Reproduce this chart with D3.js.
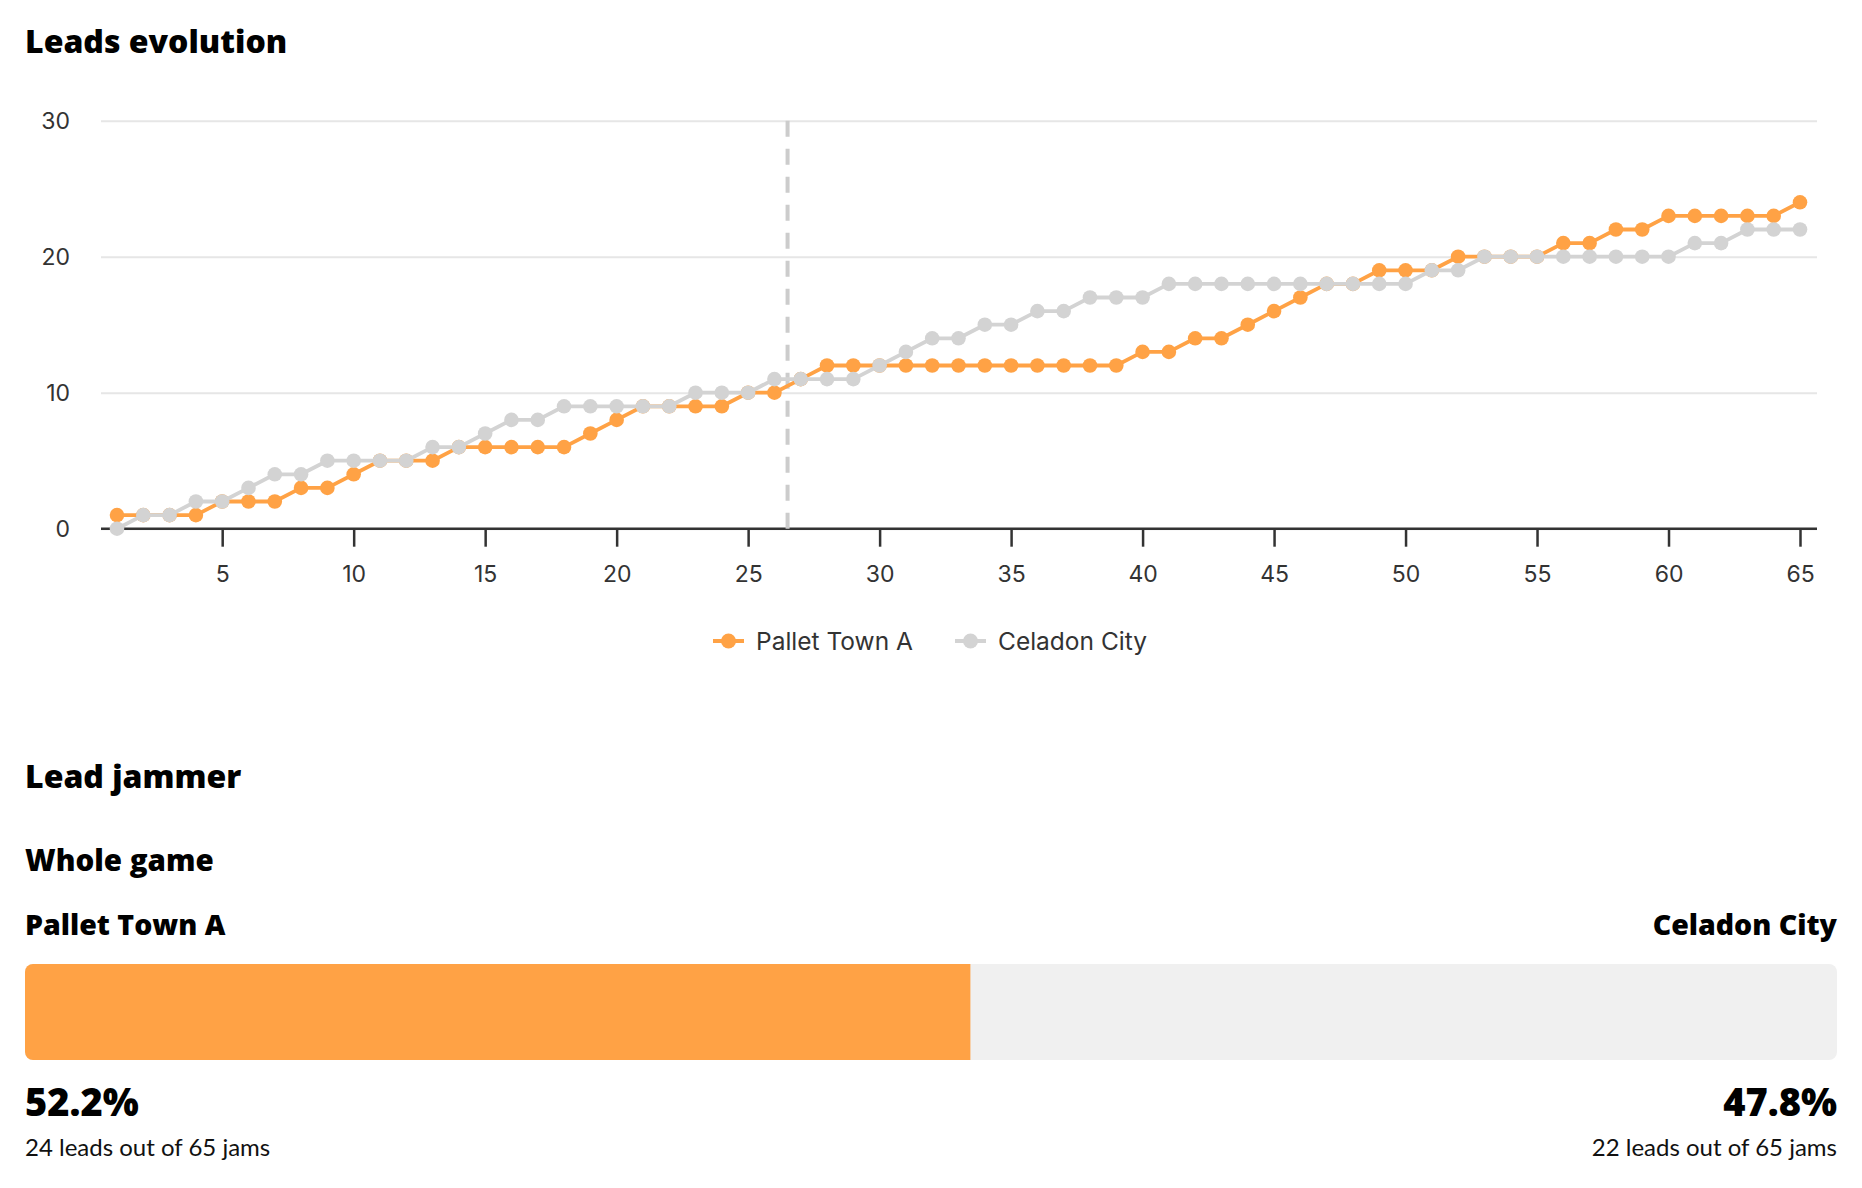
<!DOCTYPE html>
<html>
<head>
    <meta charset="utf-8">
    <title>Leads evolution</title>
    <style>
        body { margin: 0; background: #fff; }
        .heading { font-family: "Open Sans", sans-serif; font-weight: 800; fill: #000; }
        .sub { font-family: Lato, sans-serif; font-weight: 400; fill: #111; }
        .axis text { font: 23px Inter, sans-serif; fill: #333; }
        .legend text { font: 24.5px Inter, sans-serif; fill: #333; }
    </style>
</head>
<body>
    <svg width="1862" height="1188"></svg>
    <script src="https://cdn.jsdelivr.net/npm/d3@7"></script>
    <script>
    // cumulative lead jammer counts, jam 1..65
    var teams = ["Pallet Town A", "Celadon City"];
    var colors = ["#ffa245", "#d3d3d3"];
    var palletTown = [1,1,1,1,2,2,2,3,3,4, 5,5,5,6,6,6,6,6,7,8,
                      9,9,9,9,10,10,11,12,12,12, 12,12,12,12,12,12,12,12,12,13,
                      13,14,14,15,16,17,18,18,19,19, 19,20,20,20,20,21,21,22,22,23,
                      23,23,23,23,24];
    var celadonCity = [0,1,1,2,2,3,4,4,5,5, 5,5,6,6,7,8,8,9,9,9,
                       9,9,10,10,10,11,11,11,11,12, 13,14,14,15,15,16,16,17,17,17,
                       18,18,18,18,18,18,18,18,18,18, 19,19,20,20,20,20,20,20,20,20,
                       21,21,22,22,22];
    var yTicks = [0, 10, 20, 30];
    var xTicks = [5, 10, 15, 20, 25, 30, 35, 40, 45, 50, 55, 60, 65];
    var halftime = 26.5;

    var series = [palletTown, celadonCity];
    var totalJams = palletTown.length;

    var svg = d3.select("svg");

    // ---- Leads evolution ----
    svg.append("text").attr("class", "heading")
        .attr("x", 25).attr("y", 53).style("font-size", "32px")
        .text("Leads evolution");

    var plotLeft = 101, plotRight = 1817, plotTop = 120.7, plotBottom = 528.7;
    var x = d3.scaleLinear().domain([1, totalJams]).range([117, 1800]);
    var y = d3.scaleLinear().domain([0, 30]).range([plotBottom, plotTop]);

    var yAxis = svg.append("g").attr("class", "axis")
        .attr("transform", "translate(" + plotLeft + ",0)")
        .call(d3.axisLeft(y).tickValues(yTicks).tickSize(-(plotRight - plotLeft)).tickPadding(31));
    yAxis.select(".domain").remove();
    yAxis.selectAll("line").attr("stroke", "#e6e6e6").attr("stroke-width", 2);

    var xAxis = svg.append("g").attr("class", "axis")
        .attr("transform", "translate(0," + plotBottom + ")")
        .call(d3.axisBottom(x).tickValues(xTicks).tickSize(18).tickPadding(19));
    xAxis.select(".domain").remove();
    xAxis.selectAll("line").attr("stroke", "#333").attr("stroke-width", 2.5);
    xAxis.append("line")
        .attr("x1", plotLeft).attr("x2", plotRight)
        .attr("stroke", "#333").attr("stroke-width", 2.5);

    // halftime marker
    svg.append("line")
        .attr("x1", x(halftime)).attr("x2", x(halftime))
        .attr("y1", y(30)).attr("y2", y(0))
        .attr("stroke", "#cccccc").attr("stroke-width", 4)
        .attr("stroke-dasharray", "16,12");

    var line = d3.line()
        .x(function(d, i) { return x(i + 1); })
        .y(function(d) { return y(d); });

    series.forEach(function(values, k) {
        var g = svg.append("g");
        g.append("path")
            .datum(values)
            .attr("fill", "none")
            .attr("stroke", colors[k])
            .attr("stroke-width", 3.8)
            .attr("stroke-linejoin", "round")
            .attr("d", line);
        g.selectAll("circle")
            .data(values)
          .enter().append("circle")
            .attr("cx", function(d, i) { return x(i + 1); })
            .attr("cy", function(d) { return y(d); })
            .attr("r", 7.3)
            .attr("fill", colors[k]);
    });

    // legend
    var legendX = [713, 955];
    var legend = svg.append("g").attr("class", "legend");
    teams.forEach(function(name, k) {
        var lg = legend.append("g").attr("transform", "translate(" + legendX[k] + ",641)");
        lg.append("line").attr("x1", 0).attr("x2", 31)
            .attr("stroke", colors[k]).attr("stroke-width", 4);
        lg.append("circle").attr("cx", 15.5).attr("r", 7.5).attr("fill", colors[k]);
        lg.append("text").attr("x", 43).attr("dy", "0.35em").text(name);
    });

    // ---- Lead jammer ----
    svg.append("text").attr("class", "heading")
        .attr("x", 25).attr("y", 788).style("font-size", "32px")
        .text("Lead jammer");
    svg.append("text").attr("class", "heading")
        .attr("x", 25).attr("y", 871).style("font-size", "29.5px")
        .text("Whole game");

    var leads = series.map(function(v) { return v[v.length - 1]; });
    var totalLeads = d3.sum(leads);
    var fmt = d3.format(".1%");

    var barLeft = 25, barRight = 1837, barTop = 964, barH = 96;
    var xb = d3.scaleLinear().domain([0, totalLeads]).range([barLeft, barRight]);

    svg.append("defs").append("clipPath").attr("id", "barclip")
      .append("rect")
        .attr("x", barLeft).attr("y", barTop)
        .attr("width", barRight - barLeft).attr("height", barH)
        .attr("rx", 8);

    var bars = svg.append("g").attr("clip-path", "url(#barclip)");
    bars.append("rect")
        .attr("x", xb(0)).attr("y", barTop)
        .attr("width", xb(totalLeads) - xb(0)).attr("height", barH)
        .attr("fill", "#f0f0f0");
    bars.append("rect")
        .attr("x", xb(0)).attr("y", barTop)
        .attr("width", xb(leads[0]) - xb(0)).attr("height", barH)
        .attr("fill", colors[0]);

    var anchors = ["start", "end"];
    var tx = [barLeft, barRight];
    teams.forEach(function(name, k) {
        svg.append("text").attr("class", "heading")
            .attr("x", tx[k]).attr("y", 935).attr("text-anchor", anchors[k])
            .style("font-size", "28.5px")
            .text(name);
        svg.append("text").attr("class", "heading")
            .attr("x", tx[k]).attr("y", 1116).attr("text-anchor", anchors[k])
            .style("font-size", "38px")
            .text(fmt(leads[k] / totalLeads));
        svg.append("text").attr("class", "sub")
            .attr("x", tx[k]).attr("y", 1156).attr("text-anchor", anchors[k])
            .style("font-size", "24px")
            .text(leads[k] + " leads out of " + totalJams + " jams");
    });
    </script>
</body>
</html>
